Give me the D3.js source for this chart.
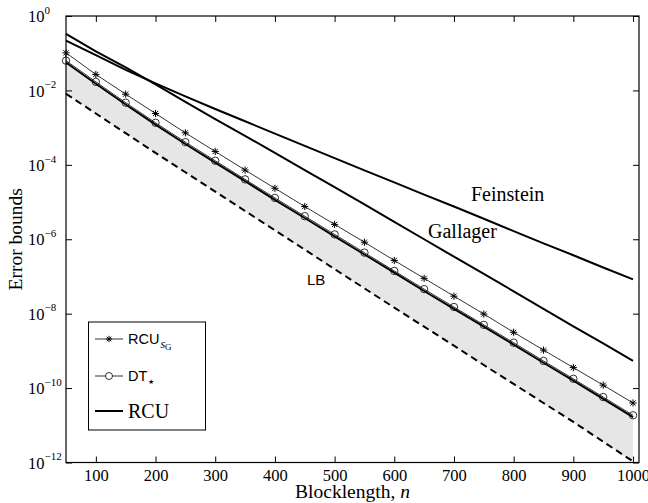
<!DOCTYPE html>
<html>
<head>
<meta charset="utf-8">
<script src="https://cdn.jsdelivr.net/npm/d3@7"></script>
<style>
body { margin: 0; background: #fff; }
svg { display: block; }
text { font-family: "Liberation Serif", "Times New Roman", serif; fill: #000; }
.sans { font-family: "Liberation Sans", Arial, sans-serif; }
</style>
</head>
<body>
<svg id="chart" width="648" height="503"></svg>
<script>
// blocklength n and the bounds
var blocklength = [50, 100, 150, 200, 250, 300, 350, 400, 450, 500,
                   550, 600, 650, 700, 750, 800, 850, 900, 950, 1000];

var rcuSG = [1.02e-1, 2.69e-2, 7.94e-3, 2.40e-3, 7.24e-4, 2.29e-4, 7.24e-5, 2.34e-5, 7.59e-6, 2.51e-6,
             8.32e-7, 2.69e-7, 8.91e-8, 2.95e-8, 9.77e-9, 3.16e-9, 1.05e-9, 3.55e-10, 1.20e-10, 3.98e-11];

var dtStar = [6.31e-2, 1.70e-2, 4.68e-3, 1.35e-3, 4.07e-4, 1.29e-4, 4.07e-5, 1.29e-5, 4.17e-6, 1.35e-6,
              4.37e-7, 1.41e-7, 4.57e-8, 1.51e-8, 5.01e-9, 1.66e-9, 5.37e-10, 1.78e-10, 5.75e-11, 1.86e-11];

var rcu = [5.62e-2, 1.51e-2, 4.17e-3, 1.20e-3, 3.63e-4, 1.15e-4, 3.63e-5, 1.15e-5, 3.72e-6, 1.20e-6,
           3.89e-7, 1.26e-7, 4.07e-8, 1.35e-8, 4.47e-9, 1.48e-9, 4.79e-10, 1.58e-10, 5.13e-11, 1.66e-11];

var lowerBound = [8.13e-3, 2.40e-3, 7.08e-4, 2.09e-4, 6.31e-5, 1.91e-5, 5.75e-6, 1.74e-6, 5.25e-7, 1.58e-7,
                  4.79e-8, 1.45e-8, 4.47e-9, 1.38e-9, 4.17e-10, 1.29e-10, 3.98e-11, 1.23e-11, 3.63e-12, 1.07e-12];

var gallager = [3.31e-1, 1.12e-1, 4.17e-2, 1.45e-2, 4.90e-3, 1.70e-3, 6.03e-4, 2.09e-4, 7.24e-5, 2.51e-5,
                8.71e-6, 2.95e-6, 1.00e-6, 3.39e-7, 1.17e-7, 3.98e-8, 1.35e-8, 4.57e-9, 1.58e-9, 5.37e-10];

var feinstein = [2.19e-1, 8.91e-2, 3.55e-2, 1.55e-2, 6.92e-3, 3.16e-3, 1.48e-3, 6.92e-4, 3.24e-4, 1.51e-4,
                 7.08e-5, 3.39e-5, 1.58e-5, 7.59e-6, 3.55e-6, 1.66e-6, 7.76e-7, 3.72e-7, 1.74e-7, 8.32e-8];

var xTicks = [100, 200, 300, 400, 500, 600, 700, 800, 900, 1000];
var yTicks = [1e0, 1e-2, 1e-4, 1e-6, 1e-8, 1e-10, 1e-12];
var yTickExp = ["0", "\u22122", "\u22124", "\u22126", "\u22128", "\u221210", "\u221212"];

var svg = d3.select("#chart");
var plotLeft = 66, plotRight = 639, plotTop = 16, plotBottom = 462.5;

var x = d3.scaleLinear().domain([50, 1010]).range([plotLeft, plotRight]);
var y = d3.scaleLog().domain([1e-12, 1]).range([plotBottom, plotTop]);

var line = function (values) {
    return d3.line()
        .x(function (d, i) { return x(blocklength[i]); })
        .y(function (d) { return y(d); })(values);
};

// grey band between the lower bound and RCU
var band = d3.area()
    .x(function (d, i) { return x(blocklength[i]); })
    .y0(function (d, i) { return y(lowerBound[i]); })
    .y1(function (d) { return y(d); });

svg.append("path").attr("d", band(rcu)).attr("fill", "#e6e6e6");

svg.append("path").attr("d", line(lowerBound))
    .attr("fill", "none").attr("stroke", "#000").attr("stroke-width", 2)
    .attr("stroke-dasharray", "7,4.5");

svg.append("path").attr("d", line(rcu))
    .attr("fill", "none").attr("stroke", "#000").attr("stroke-width", 2);

svg.append("path").attr("d", line(dtStar))
    .attr("fill", "none").attr("stroke", "#000").attr("stroke-width", 0.8);

svg.append("path").attr("d", line(rcuSG))
    .attr("fill", "none").attr("stroke", "#000").attr("stroke-width", 0.8);

svg.append("path").attr("d", line(gallager))
    .attr("fill", "none").attr("stroke", "#000").attr("stroke-width", 2);

svg.append("path").attr("d", line(feinstein))
    .attr("fill", "none").attr("stroke", "#000").attr("stroke-width", 2);

// 8-armed asterisk like the matlab '*' marker
function starPath (r) {
    var a = r * 0.72;
    return "M" + (-r) + ",0L" + r + ",0M0," + (-r) + "L0," + r +
           "M" + (-a) + "," + (-a) + "L" + a + "," + a +
           "M" + (-a) + "," + a + "L" + a + "," + (-a);
}

svg.append("g").selectAll("circle")
    .data(dtStar)
    .enter().append("circle")
    .attr("cx", function (d, i) { return x(blocklength[i]); })
    .attr("cy", function (d) { return y(d); })
    .attr("r", 3.7)
    .attr("fill", "none").attr("stroke", "#000").attr("stroke-width", 0.8);

svg.append("g").selectAll("path")
    .data(rcuSG)
    .enter().append("path")
    .attr("transform", function (d, i) { return "translate(" + x(blocklength[i]) + "," + y(d) + ")"; })
    .attr("d", starPath(3.6))
    .attr("fill", "none").attr("stroke", "#000").attr("stroke-width", 1);

// curve labels
svg.append("text").attr("x", 471).attr("y", 201).style("font-size", "20px").text("Feinstein");
svg.append("text").attr("x", 428).attr("y", 238).style("font-size", "20px").text("Gallager");
svg.append("text").attr("x", 307).attr("y", 285).attr("class", "sans").style("font-size", "15px").text("LB");

// legend
var legend = svg.append("g");
legend.append("rect")
    .attr("x", 88.5).attr("y", 322).attr("width", 117).attr("height", 108)
    .attr("fill", "#fff").attr("stroke", "#000").attr("stroke-width", 1);

var rows = [339, 376, 411];
legend.append("line").attr("x1", 95).attr("x2", 123).attr("y1", rows[0]).attr("y2", rows[0])
    .attr("stroke", "#000").attr("stroke-width", 0.8);
legend.append("path").attr("transform", "translate(109," + rows[0] + ")").attr("d", starPath(3.2))
    .attr("fill", "none").attr("stroke", "#000").attr("stroke-width", 1);
legend.append("line").attr("x1", 95).attr("x2", 123).attr("y1", rows[1]).attr("y2", rows[1])
    .attr("stroke", "#000").attr("stroke-width", 0.8);
legend.append("circle").attr("cx", 109).attr("cy", rows[1]).attr("r", 3.5)
    .attr("fill", "#fff").attr("stroke", "#000").attr("stroke-width", 0.8);
legend.append("line").attr("x1", 95).attr("x2", 123).attr("y1", rows[2]).attr("y2", rows[2])
    .attr("stroke", "#000").attr("stroke-width", 2);

var t1 = legend.append("text").attr("x", 128).attr("y", rows[0] + 5).attr("class", "sans").style("font-size", "14.5px");
t1.append("tspan").text("RCU");
t1.append("tspan").attr("dx", 1).attr("dy", 4).style("font-family", "Liberation Serif").style("font-style", "italic").style("font-size", "12px").text("s");
t1.append("tspan").attr("dy", 1.5).style("font-family", "Liberation Serif").style("font-size", "9px").text("G");

var t2 = legend.append("text").attr("x", 128).attr("y", rows[1] + 5).attr("class", "sans").style("font-size", "14.5px");
t2.append("tspan").text("DT");
t2.append("tspan").attr("dx", 1).attr("dy", 3).style("font-family", "DejaVu Sans").style("font-size", "6.5px").text("\u2605");

legend.append("text").attr("x", 128).attr("y", rows[2] + 7).style("font-size", "20px").text("RCU");

// axes, ticks pointing inward on all four sides
svg.append("g").attr("transform", "translate(0," + plotBottom + ")")
    .call(d3.axisBottom(x).tickValues(xTicks).tickSizeInner(-6).tickSizeOuter(0).tickPadding(7)
        .tickFormat(d3.format("d")))
    .call(function (g) {
        g.select(".domain").remove();
        g.selectAll("text").style("font-size", "16.5px").style("font-family", "Liberation Serif");
    });

svg.append("g").attr("transform", "translate(0," + plotTop + ")")
    .call(d3.axisTop(x).tickValues(xTicks).tickSizeInner(-6).tickSizeOuter(0).tickFormat(""))
    .call(function (g) { g.select(".domain").remove(); });

var yAxis = svg.append("g").attr("transform", "translate(" + plotLeft + ",0)")
    .call(d3.axisLeft(y).tickValues(yTicks).tickSizeInner(-6).tickSizeOuter(0).tickFormat(""))
    .call(function (g) { g.select(".domain").remove(); });

yAxis.selectAll(".tick").each(function (d, i) {
    var t = d3.select(this).append("text")
        .attr("x", 28 - plotLeft).attr("y", 5.7)
        .attr("text-anchor", "start")
        .style("font-size", "16.5px");
    t.append("tspan").text("10");
    t.append("tspan").attr("dy", -8.5).style("font-size", "11px").text(yTickExp[i]);
});

svg.append("g").attr("transform", "translate(" + plotRight + ",0)")
    .call(d3.axisRight(y).tickValues(yTicks).tickSizeInner(-6).tickSizeOuter(0).tickFormat(""))
    .call(function (g) { g.select(".domain").remove(); });

svg.append("rect")
    .attr("x", plotLeft).attr("y", plotTop).attr("width", plotRight - plotLeft).attr("height", plotBottom - plotTop)
    .attr("fill", "none").attr("stroke", "#000").attr("stroke-width", 1.2);

// axis titles
var xl = svg.append("text").attr("x", (plotLeft + plotRight) / 2).attr("y", 498)
    .attr("text-anchor", "middle").style("font-size", "19.5px");
xl.append("tspan").text("Blocklength, ");
xl.append("tspan").style("font-style", "italic").text("n");

svg.append("text")
    .attr("transform", "translate(22," + ((plotTop + plotBottom) / 2) + ") rotate(-90)")
    .attr("text-anchor", "middle").style("font-size", "19.5px")
    .text("Error bounds");
</script>
</body>
</html>
